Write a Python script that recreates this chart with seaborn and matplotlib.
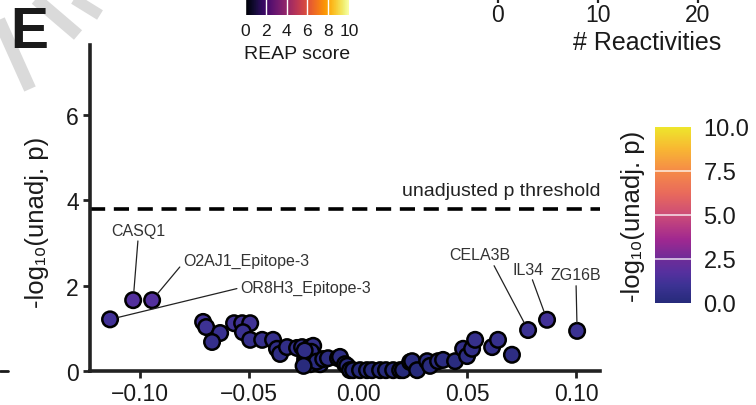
import numpy as np
import pandas as pd
import matplotlib
matplotlib.use("Agg")
import matplotlib.pyplot as plt
import matplotlib.colors as mcolors
from matplotlib.cm import ScalarMappable
from matplotlib.lines import Line2D
import seaborn as sns

# ---------------- data ----------------
cloud_x = [-0.0711, -0.0697, -0.0633, -0.0670,
           -0.0569, -0.0532, -0.0495, -0.0528, -0.0495,
           -0.0440, -0.0390, -0.0372, -0.0358, -0.0326,
           -0.0280, -0.0257, -0.0220, -0.0206,
           -0.0243, -0.0234, -0.0206, -0.0197,
           -0.0234, -0.0220, -0.0174, -0.0230, -0.0215,
           -0.0245, -0.0190, -0.0160, -0.0250,
           -0.0138, -0.0092, -0.0083, -0.0060, -0.0050,
           -0.0037, -0.0023, 0.0009, 0.0041, 0.0064,
           0.0101, 0.0128, 0.0161, 0.0193, 0.0206,
           0.0239, 0.0248, 0.0271, 0.0317, 0.0330,
           0.0367, 0.0390, 0.0445, 0.0482, 0.0500,
           0.0523, 0.0537, 0.0615, 0.0642, 0.0706]
cloud_y = [1.15, 1.03, 0.89, 0.68,
           1.12, 1.12, 1.12, 0.91, 0.73,
           0.73, 0.73, 0.52, 0.40, 0.56,
           0.54, 0.56, 0.56, 0.59,
           0.28, 0.28, 0.28, 0.33,
           0.16, 0.16, 0.16, 0.40, 0.45,
           0.48, 0.22, 0.28, 0.12,
           0.30, 0.30, 0.33, 0.16, 0.12,
           0.02, 0.02, 0.02, 0.02, 0.02,
           0.02, 0.02, 0.02, 0.02, 0.02,
           0.21, 0.23, 0.02, 0.23, 0.12,
           0.23, 0.26, 0.23, 0.52, 0.35,
           0.52, 0.73, 0.56, 0.73, 0.38]

genes = ["CASQ1", "O2AJ1_Epitope-3", "OR8H3_Epitope-3", "CELA3B", "IL34", "ZG16B"]
gene_x = [-0.1032, -0.0945, -0.1138, 0.0780, 0.0867, 0.1005]
gene_y = [1.66, 1.66, 1.21, 0.96, 1.20, 0.94]
label_x = [-0.1009, -0.0803, -0.0541, 0.0560, 0.0780, 0.1000]
label_y = [3.30, 2.60, 1.95, 2.72, 2.39, 2.25]
label_ha = ["center", "left", "left", "center", "center", "center"]
label_rel = [(0.5, 0.0), (0.0, 0.3), (0.0, 0.5), (0.7, 0.0), (0.6, 0.0), (0.5, 0.0)]

threshold = 3.8
y_ticks = [0, 2, 4, 6]
x_ticks = [-0.10, -0.05, 0.00, 0.05, 0.10]
x_ticklabels = ["\u22120.10", "\u22120.05", "0.00", "0.05", "0.10"]
cbar_ticks = [0.0, 2.5, 5.0, 7.5, 10.0]
reap_ticks = [0, 2, 4, 6, 8, 10]
react_ticks = [0, 10, 20]

df = pd.DataFrame({"x": cloud_x + gene_x, "y": cloud_y + gene_y})

# ---------------- style ----------------
sns.set_theme(style="ticks")
plt.rcParams["font.family"] = ["Liberation Sans", "DejaVu Sans"]
TXT = "#1a1a1a"

cmap = mcolors.LinearSegmentedColormap.from_list(
    "plasma_soft",
    [(0.00, "#262a7a"), (0.10, "#3c3294"), (0.17, "#55309e"), (0.25, "#6e2c98"),
     (0.36, "#a02890"), (0.50, "#cc4c78"), (0.62, "#e8695c"), (0.75, "#f58a48"),
     (0.88, "#f8b832"), (1.00, "#eee62c")])
norm = mcolors.Normalize(0, 10)

W, H = 756, 406
fig = plt.figure(figsize=(W / 100, H / 100), dpi=100)

def fx(px):
    return px / W

def fy(py):
    return 1 - py / H

# watermark fragments
for (x0, y0, x1, y1, lw) in [(-5, 12, 30, 90, 9), (30, -5, 78, 36, 9), (66, -5, 100, 16, 8)]:
    fig.add_artist(Line2D([fx(x0), fx(x1)], [fy(y0), fy(y1)], color="#dadada",
                          lw=lw, solid_capstyle="butt", zorder=0))
fig.add_artist(Line2D([fx(0), fx(8)], [fy(372), fy(372)], color=TXT, lw=2, zorder=1))

# ---------------- main axes ----------------
ax = fig.add_axes([fx(90), fy(372), fx(600) - fx(90), fy(46) - fy(372)])
ax.set_facecolor("none")
sns.scatterplot(data=df, x="x", y="y", hue="y", palette=cmap, hue_norm=norm,
                s=125, edgecolor="black", linewidth=1.8, legend=False,
                ax=ax, clip_on=False, zorder=3)
ax.set_xlim(-0.123, 0.111)
ax.set_ylim(0, 7.64)
sns.despine(ax=ax)
for sp in ["left", "bottom"]:
    ax.spines[sp].set_linewidth(2.6)
    ax.spines[sp].set_color("#222222")
ax.set_xticks(x_ticks, labels=x_ticklabels)
ax.set_yticks(y_ticks)
ax.tick_params(axis="both", length=5, width=2, color="#222222",
               labelsize=16.5, labelcolor=TXT, pad=3)
ax.set_xlabel("")
ax.set_ylabel("-log\u2081\u2080(unadj. p)", fontsize=18.5, color=TXT, va="center")
ax.yaxis.set_label_coords(-53 / 510, 0.46)

ax.axhline(threshold, color="black", lw=2.6, ls=(0, (4.2, 2.4)), zorder=2, clip_on=False)
ax.text(0.111, threshold + 0.22, "unadjusted p threshold", ha="right", va="bottom",
        fontsize=14, color="#222222")

for g, gx, gy, tx, ty, ha, rel in zip(genes, gene_x, gene_y, label_x, label_y, label_ha, label_rel):
    ax.annotate(g, xy=(gx, gy), xytext=(tx, ty), ha=ha, va="center",
                fontsize=11.5, color="#333333",
                arrowprops=dict(arrowstyle="-", color="#222222", lw=0.9,
                                shrinkA=0, shrinkB=6, relpos=rel))

# ---------------- right colorbar ----------------
cax = fig.add_axes([fx(655), fy(304), fx(691) - fx(655), fy(128) - fy(304)])
cb = fig.colorbar(ScalarMappable(norm=norm, cmap=cmap), cax=cax, ticks=cbar_ticks)
cb.outline.set_visible(False)
cb.ax.set_yticklabels([f"{v:.1f}" for v in cbar_ticks])
cb.ax.tick_params(length=0, labelsize=17, labelcolor=TXT, pad=9)
for v in cbar_ticks[1:-1]:
    cax.axhline(v, color="white", lw=1.1, alpha=0.85)
cax.yaxis.set_label_position("left")
cax.set_ylabel("-log\u2081\u2080(unadj. p)", fontsize=18.5, color=TXT, va="center")
cax.yaxis.set_label_coords(-22 / 36, 0.5)

# ---------------- top REAP colorbar (cut off) ----------------
rax = fig.add_axes([fx(245), fy(16), fx(349) - fx(245), 40 / H])
rcb = fig.colorbar(ScalarMappable(norm=mcolors.Normalize(0, 10), cmap="inferno"),
                   cax=rax, orientation="horizontal", ticks=reap_ticks)
rcb.outline.set_visible(False)
rax.tick_params(length=0, labelsize=12.5, labelcolor=TXT, pad=6)
for v in reap_ticks[:-1]:
    rax.axvline(v, color="white", lw=1.0)
rax.set_xlabel("REAP score", fontsize=14, color=TXT, va="center")
rax.xaxis.set_label_coords(0.5, -(54 - 16) / 40)

# ---------------- top-right "# Reactivities" axis (cut off) ----------------
tax = fig.add_axes([fx(448), fy(-1), 300 / W, 40 / H])
tax.set_facecolor("none")
tax.set_xlim(-5, 25)
tax.set_ylim(0, 1)
tax.set_xticks(react_ticks)
tax.set_yticks([])
for sp in tax.spines.values():
    sp.set_visible(False)
tax.tick_params(axis="x", length=3.5, width=1.6, color="#222222", labelsize=16.5,
                labelcolor=TXT, pad=0)
tax.set_xlabel("# Reactivities", fontsize=18, color=TXT, va="center")
tax.xaxis.set_label_coords((647 - 448) / 300, -44 / 40)

# panel letter
fig.text(fx(10), fy(33), "E", fontsize=41, fontweight="bold", color=TXT,
         ha="left", va="center")

fig.savefig("out.png", dpi=100)
